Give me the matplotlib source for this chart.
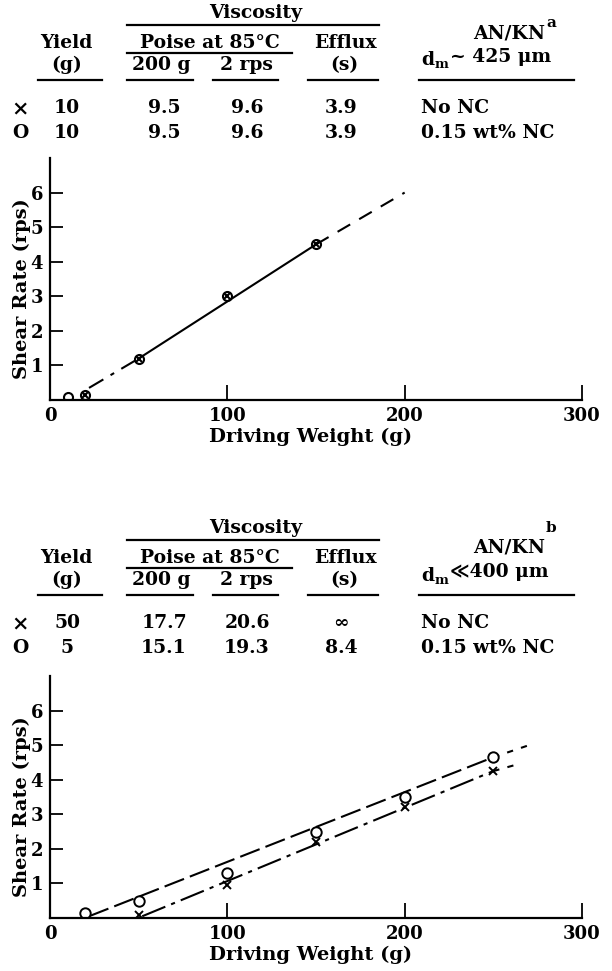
import matplotlib
matplotlib.use("Agg")
from matplotlib import pyplot as plt
from matplotlib.lines import Line2D

plt.rcParams['font.family'] = ['DejaVu Serif', 'DejaVu Sans', 'Noto Sans CJK SC']
plt.rcParams['font.weight'] = 'bold'
plt.rcParams['axes.labelweight'] = 'bold'
plt.rcParams['mathtext.fontset'] = 'dejavuserif'

# ---- data ----
# top panel: AN/KN, d_m ~ 425 um
top_x_w = [20, 50, 100, 150]
top_x_r = [0.15, 1.2, 3.0, 4.5]
top_o_w = [10, 20, 50, 100, 150]
top_o_r = [0.1, 0.15, 1.2, 3.0, 4.5]
top_lo_w = [22, 50]          # dash-dot start of the fitted line
top_lo_r = [0.35, 1.2]
top_fit_w = [50, 150]        # solid part
top_fit_r = [1.2, 4.5]
top_ext_w = [150, 200]       # dashed extrapolation
top_ext_r = [4.5, 6.0]

# bottom panel: AN/KN, d_m << 400 um
bot_x_w = [50, 100, 150, 200, 250]
bot_x_r = [0.1, 0.95, 2.2, 3.2, 4.25]
bot_o_w = [20, 50, 100, 150, 200, 250]
bot_o_r = [0.15, 0.5, 1.3, 2.5, 3.5, 4.65]
bot_xfit_w = [52, 250]
bot_xfit_r = [0.05, 4.25]
bot_xext_w = [250, 264]
bot_xext_r = [4.25, 4.45]
bot_ofit_w = [22, 250]
bot_ofit_r = [0.05, 4.65]
bot_oext_w = [250, 269]
bot_oext_r = [4.65, 4.98]

xticks = [0, 100, 200, 300]
xticklabels = ['0', '100', '200', '300']
yticks = [1, 2, 3, 4, 5, 6]

top_rows = [['10', '9.5', '9.6', '3.9', 'No NC'],
            ['10', '9.5', '9.6', '3.9', '0.15 wt% NC']]
bot_rows = [['50', '17.7', '20.6', '\u221e', 'No NC'],
            ['5', '15.1', '19.3', '8.4', '0.15 wt% NC']]

W, H = 612, 971
FS = 13.5
fig = plt.figure(figsize=(W / 100, H / 100), dpi=100)


def fx(x):
    return x / W


def fy(y):
    return 1 - y / H


def txt(x, y, s, ha='center', size=FS):
    fig.text(fx(x), fy(y), s, ha=ha, va='center', fontsize=size)


def hline(x0, x1, y):
    fig.add_artist(Line2D([fx(x0), fx(x1)], [fy(y), fy(y)], color='black', lw=1.6))


def table(dy, rows, sup, sup_y, size_txt):
    txt(256, 13 + dy, 'Viscosity')
    hline(127, 379, 25 + dy)
    txt(66, 43 + dy, 'Yield')
    txt(210, 43 + dy, 'Poise at 85\u00b0C')
    hline(127, 292, 53 + dy)
    txt(345, 43 + dy, 'Efflux')
    txt(545, 33 + dy, 'AN/KN', ha='right')
    txt(546, sup_y + dy, sup, ha='left', size=11)
    txt(421, 60 + dy, r'd$_{\mathbf{m}}$', ha='left')
    txt(450, 57 + dy, size_txt, ha='left')
    txt(67, 65 + dy, '(g)')
    txt(161, 65 + dy, '200 g')
    txt(246, 65 + dy, '2 rps')
    txt(344, 65 + dy, '(s)')
    for a, b in [(38, 102), (127, 193), (213, 278), (308, 378), (419, 574)]:
        hline(a, b, 80 + dy)
    marks = ['\u00d7', 'O']
    for i, row in enumerate(rows):
        y = 108 + 25 * i + dy
        txt(20, y, marks[i], size=15 if i == 0 else FS)
        txt(67, y, row[0])
        txt(164, y, row[1])
        txt(247, y, row[2])
        txt(341, y, row[3])
        txt(421, y, row[4], ha='left')


def panel(bottom_px):
    ax = fig.add_axes([fx(50), fy(bottom_px), fx(532), 242 / H])
    ax.set_xlim(0, 300)
    ax.set_ylim(0, 7)
    for s in ['top', 'right']:
        ax.spines[s].set_visible(False)
    for s in ['left', 'bottom']:
        ax.spines[s].set_linewidth(1.6)
    ax.set_xticks(xticks)
    ax.set_xticklabels(xticklabels)
    ax.set_yticks(yticks)
    ax.tick_params(axis='x', direction='in', length=11, width=1.3,
                   labelsize=13, pad=5)
    ax.tick_params(axis='y', direction='in', length=9, width=1.3,
                   labelsize=13, pad=5)
    ax.set_xlabel('Driving Weight (g)', fontsize=14)
    ax.xaxis.set_label_coords(0.49, -0.115)
    ax.set_ylabel('Shear Rate (rps)', fontsize=14)
    ax.yaxis.set_label_coords(-0.036, 0.46)
    return ax


table(0, top_rows, 'a', 23, '~ 425 \u03bcm')
table(515, bot_rows, 'b', 13, '\u226a400 \u03bcm')

ax1 = panel(400)
ax1.plot(top_lo_w, top_lo_r, color='black', lw=1.5, linestyle=(0, (8, 4, 2, 4)))
ax1.plot(top_fit_w, top_fit_r, color='black', lw=1.5)
ax1.plot(top_ext_w, top_ext_r, color='black', lw=1.5, linestyle=(0, (7, 5)))
ax1.plot(top_o_w, top_o_r, linestyle='none', marker='o', ms=6.5,
         mfc='none', mec='black', mew=1.5)
ax1.plot(top_x_w, top_x_r, linestyle='none', marker='x', ms=5,
         color='black', mew=1.5)

ax2 = panel(918)
ax2.plot(bot_ofit_w, bot_ofit_r, color='black', lw=1.5, linestyle=(0, (10, 3)))
ax2.plot(bot_oext_w, bot_oext_r, color='black', lw=1.5, linestyle=(0, (3, 4)))
ax2.plot(bot_xfit_w, bot_xfit_r, color='black', lw=1.5, linestyle=(0, (12, 3, 2, 3)))
ax2.plot(bot_xext_w, bot_xext_r, color='black', lw=1.5, linestyle=(0, (3, 4)))
ax2.plot(bot_o_w, bot_o_r, linestyle='none', marker='o', ms=7.5,
         mfc='white', mec='black', mew=1.4)
ax2.plot(bot_x_w, bot_x_r, linestyle='none', marker='x', ms=6,
         color='black', mew=1.4)

fig.savefig('out.png', dpi=100)
